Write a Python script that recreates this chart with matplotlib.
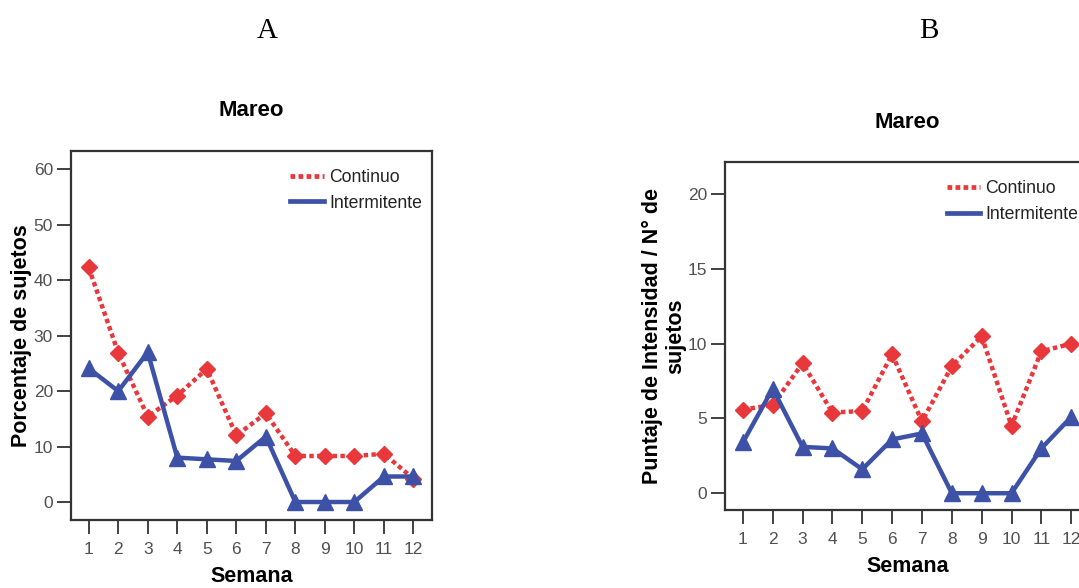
import matplotlib
matplotlib.use("Agg")
import matplotlib.pyplot as plt
from matplotlib.lines import Line2D

plt.rcParams['font.family'] = ['Liberation Sans', 'DejaVu Sans']

# weeks on the x axis
semanas = list(range(1, 13))

# panel A: percentage of subjects with dizziness
pct_continuo = [42.3, 26.9, 15.4, 19.2, 24.0, 12.0, 16.0, 8.3, 8.3, 8.3, 8.7, 4.2]
pct_intermitente = [24.1, 20.0, 27.0, 8.0, 7.7, 7.4, 11.8, 0.0, 0.0, 0.0, 4.6, 4.6]

# panel B: intensity score / number of subjects
int_continuo = [5.6, 5.9, 8.7, 5.4, 5.5, 9.3, 4.8, 8.5, 10.5, 4.5, 9.5, 10.0]
int_intermitente = [3.4, 7.0, 3.1, 3.0, 1.6, 3.6, 4.0, 0.0, 0.0, 0.0, 3.0, 5.1]

RED = '#e8383c'
BLUE = '#3d52a7'
GRAY = '#333333'


def draw_panel(ax, cont, inter, yticks, ylim, ylabel, leg_xy):
    ax.plot(semanas, cont, color=RED, lw=3.2, dashes=(1.0, 0.75),
            marker='D', ms=8, mec=RED, mfc=RED, zorder=3)
    ax.plot(semanas, inter, color=BLUE, lw=3.2, marker='^', ms=11,
            mec=BLUE, mfc=BLUE, zorder=4)
    ax.set_xlim(0.4, 12.63)
    ax.set_ylim(*ylim)
    ax.set_xticks(semanas)
    ax.set_yticks(yticks)
    for sp in ax.spines.values():
        sp.set_color(GRAY)
        sp.set_linewidth(1.6)
    ax.tick_params(axis='both', colors=GRAY, labelcolor='#505050',
                   labelsize=12.5, length=10, width=1.3, direction='out')
    ax.tick_params(axis='y', pad=3)
    ax.tick_params(axis='x', pad=6)
    ax.set_xlabel('Semana', fontsize=15.5, fontweight='bold', labelpad=6)
    ax.set_ylabel(ylabel, fontsize=15.5, fontweight='bold', labelpad=1,
                  linespacing=1.1)
    handles = [Line2D([], [], color=RED, lw=3.4, dashes=(1.0, 0.7)),
               Line2D([], [], color=BLUE, lw=3.4)]
    leg = ax.legend(handles, ['Continuo', 'Intermitente'], loc='upper left',
                    bbox_to_anchor=leg_xy, frameon=False,
                    fontsize=12.7, handlelength=1.9, handletextpad=0.3,
                    borderpad=0, borderaxespad=0, labelspacing=0.5)
    for t in leg.get_texts():
        t.set_color('#222222')


fig = plt.figure(figsize=(10.79, 5.88), dpi=100)

axA = fig.add_axes([0.0658, 0.1156, 0.3346, 0.6276])
draw_panel(axA, pct_continuo, pct_intermitente, [0, 10, 20, 30, 40, 50, 60],
           (-3.25, 63.3), 'Porcentaje de sujetos', (0.607, 0.952))
axA.set_title('Mareo', fontsize=16, fontweight='bold', pad=25)

axB = fig.add_axes([0.6719, 0.1327, 0.3383, 0.5913])
draw_panel(axB, int_continuo, int_intermitente, [0, 5, 10, 15, 20],
           (-1.12, 22.14), 'Puntaje de Intensidad / N° de\nsujetos', (0.607, 0.948))
axB.set_title('Mareo', fontsize=16, fontweight='bold', pad=25)

fig.text(267 / 1079, 1 - 31 / 588, 'A', family='Liberation Serif',
         fontsize=21, ha='center', va='center')
fig.text(929 / 1079, 1 - 31 / 588, 'B', family='Liberation Serif',
         fontsize=21, ha='center', va='center')

fig.savefig('out.png', dpi=100)
